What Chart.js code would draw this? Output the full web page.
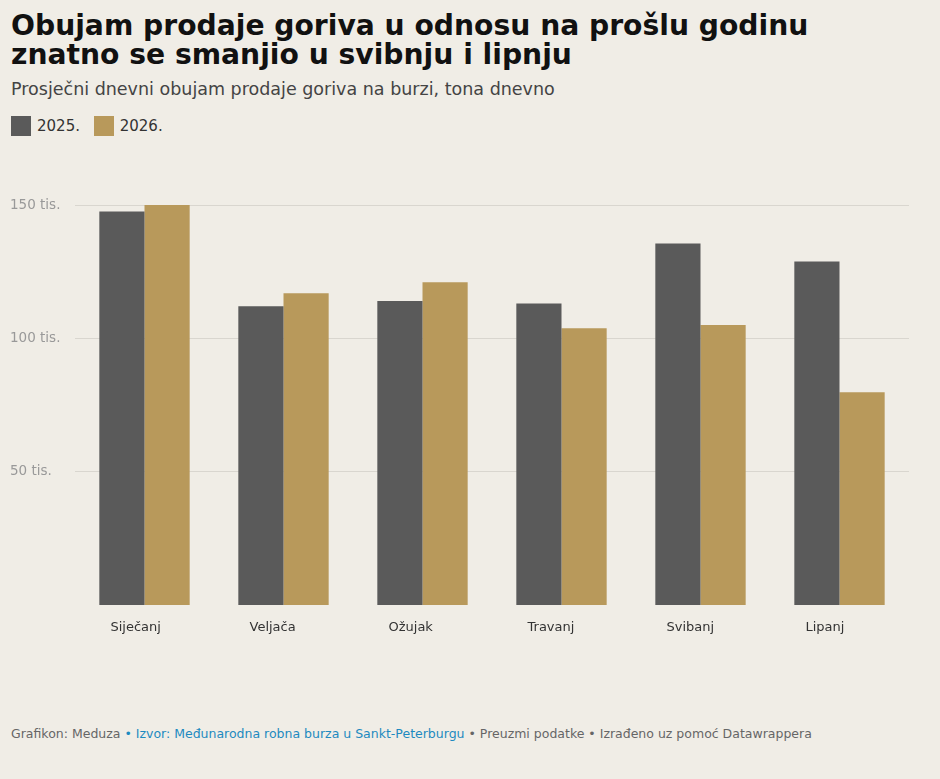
<!DOCTYPE html>
<html>
<head>
<meta charset="utf-8">
<script src="https://cdn.jsdelivr.net/npm/chart.js@4"></script>
<style>
  body { margin: 0; background: #f0ede6; font-family: "DejaVu Sans", sans-serif; width: 940px; height: 779px; position: relative; overflow: hidden; }
  h1 { position: absolute; left: 11px; top: 11px; margin: 0; font-size: 28.2px; line-height: 29px; font-weight: bold; color: #111; }
  .sub { position: absolute; left: 11px; top: 79px; font-size: 17.5px; color: #444; }
  .legend { position: absolute; left: 11px; top: 116px; font-size: 15px; color: #333; }
  .legend span.sw { display: inline-block; width: 20px; height: 20px; vertical-align: middle; margin-right: 6px; }
  .legend .item { display: inline-block; margin-right: 9px; }
  .wrap { position: absolute; left: 0; top: 190px; width: 940px; height: 460px; }
  .foot { position: absolute; left: 11px; top: 726px; font-size: 12.5px; color: #666; }
  .foot a { color: #1d8ac0; text-decoration: none; }
</style>
</head>
<body>
<h1>Obujam prodaje goriva u odnosu na prošlu godinu<br>znatno se smanjio u svibnju i lipnju</h1>
<div class="sub">Prosječni dnevni obujam prodaje goriva na burzi, tona dnevno</div>
<div class="legend">
  <span class="item"><span class="sw" style="background:#5a5a5a"></span>2025.</span>
  <span class="item"><span class="sw" style="background:#b8995b"></span>2026.</span>
</div>
<div class="wrap"><canvas id="myChart"></canvas></div>
<div class="foot">Grafikon: Meduza <a>• Izvor: Međunarodna robna burza u Sankt-Peterburgu</a> • Preuzmi podatke • Izrađeno uz pomoć Datawrappera</div>
<script>
let months = ['Siječanj', 'Veljača', 'Ožujak', 'Travanj', 'Svibanj', 'Lipanj'];
let data2025 = [147.6, 112, 114, 113.1, 135.6, 128.8];
let data2026 = [150, 116.9, 121, 103.8, 105, 79.8];
let yTicks = [50, 100, 150];

let ctx = document.getElementById('myChart').getContext('2d');
let chart = new Chart(ctx, {
  type: 'bar',
  data: {
    labels: months,
    datasets: [{
      label: '2025.',
      data: data2025,
      backgroundColor: '#5a5a5a',
      categoryPercentage: 0.65,
      barPercentage: 1.0
    }, {
      label: '2026.',
      data: data2026,
      backgroundColor: '#b8995b',
      categoryPercentage: 0.65,
      barPercentage: 1.0
    }]
  },
  options: {
    responsive: true,
    maintainAspectRatio: false,
    animation: false,
    layout: { padding: { left: 10, right: 31, top: 15, bottom: 0 } },
    plugins: {
      legend: { display: false },
      tooltip: { enabled: false }
    },
    scales: {
      x: {
        grid: { display: false, drawTicks: false },
        border: { display: false },
        ticks: {
          color: '#333',
          font: { family: 'DejaVu Sans', size: 13 },
          padding: 15,
          align: 'start',
          labelOffset: -34
        },
        afterFit: function(scale) { scale.height = 45; }
      },
      y: {
        min: 0,
        max: 150,
        border: { display: false },
        grid: {
          drawTicks: false,
          color: function(c) { return c.tick && c.tick.value === 0 ? 'rgba(0,0,0,0)' : '#d9d6cf'; }
        },
        afterBuildTicks: function(scale) {
          scale.ticks = yTicks.map(v => ({ value: v }));
        },
        ticks: {
          color: '#999',
          crossAlign: 'far',
          font: { family: 'DejaVu Sans', size: 13.5 },
          callback: function(v) { return v + ' tis.'; }
        },
        afterFit: function(scale) { scale.width = 65; }
      }
    }
  }
});
</script>
</body>
</html>
